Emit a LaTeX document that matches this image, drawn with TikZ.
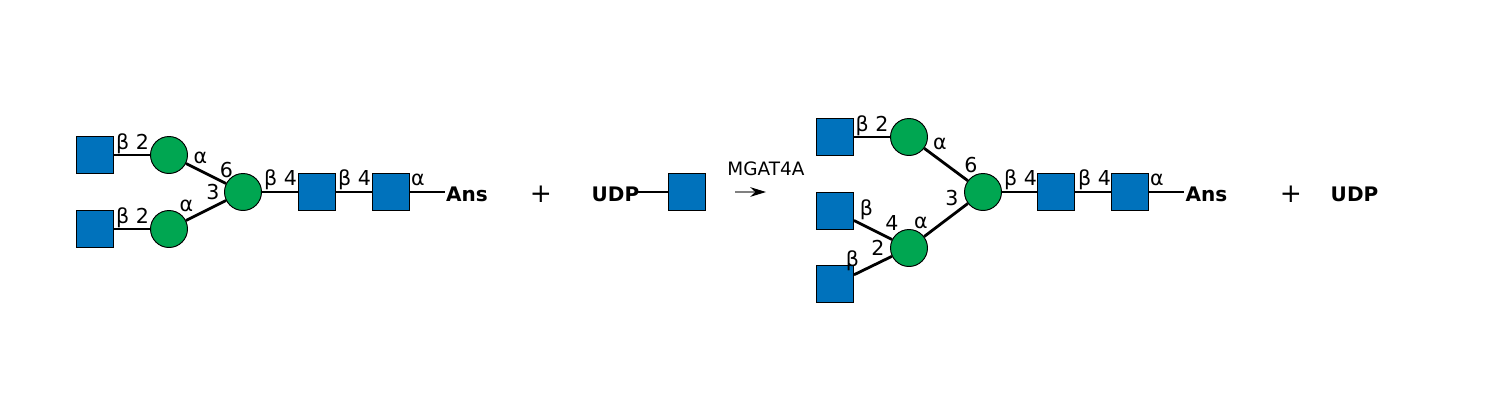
\documentclass[tikz,border=0pt]{standalone}
\usepackage{fontspec}
\setmainfont{DejaVu Sans}
\usetikzlibrary{arrows.meta}

\definecolor{glcnac}{HTML}{0072BC}
\definecolor{man}{HTML}{00A651}

\begin{document}
\begin{tikzpicture}[>=Stealth,x=0.020cm,y=-0.020cm,
 sq/.style={draw,line width=0.55pt,fill=glcnac,inner sep=0pt,minimum size=0.74cm},
 circ/.style={draw,circle,line width=0.55pt,fill=man,inner sep=0pt,minimum size=0.74cm},
 bond/.style={line width=1.6pt},
 lab/.style={font=\fontsize{11.7pt}{13pt}\selectfont,inner sep=0pt,anchor=base},
 end/.style={font=\fontsize{11.4pt}{13pt}\selectfont\bfseries,inner sep=0pt},
 plus/.style={font=\fontsize{15pt}{17pt}\selectfont,inner sep=0pt}]
\useasboundingbox (0,0) rectangle (1500,400);
\node[sq] (s1) at (95,155) {};
\node[sq] (s2) at (95,229) {};
\node[circ] (m1) at (169,155) {};
\node[circ] (m2) at (169,229) {};
\node[circ] (m3) at (243,192) {};
\node[sq] (s3) at (317,192) {};
\node[sq] (s4) at (391,192) {};
\node[end] (ans1) at (467,194) {Ans};
\node[plus] (plus1) at (541,194.5) {+};
\node[end] (udp1) at (615.5,194) {UDP};
\node[sq] (s5) at (687,192) {};
\node[lab,font=\fontsize{10.5pt}{12pt}\selectfont] (enz) at (766,175) {MGAT4A};
\coordinate (arr1) at (735,192);
\coordinate (arr2) at (766,192);
\node[sq] (t1) at (835,137) {};
\node[sq] (t2) at (835,211) {};
\node[sq] (t3) at (835,284) {};
\node[circ] (n1) at (909,137) {};
\node[circ] (n2) at (909,248) {};
\node[circ] (n3) at (983,192) {};
\node[sq] (t4) at (1056,192) {};
\node[sq] (t5) at (1130,192) {};
\node[end] (ans2) at (1206.5,194) {Ans};
\node[plus] (plus2) at (1291,194.5) {+};
\node[end] (udp2) at (1354.5,194) {UDP};
\draw[bond] (s1) -- (m1);
\draw[bond] (s2) -- (m2);
\draw[bond] (m1) -- (m3);
\draw[bond] (m2) -- (m3);
\draw[bond] (m3) -- (s3);
\draw[bond] (s3) -- (s4);
\draw[bond] (s4) -- ([xshift=-0.02cm]s4 -| ans1.west);
\draw[bond] ([xshift=-0.04cm]s5 -| udp1.east) -- (s5);
\draw[gray,line width=0.7pt,-{Stealth[black,length=9pt,width=5.5pt]}] (arr1) -- (arr2);
\draw[bond] (t1) -- (n1);
\draw[bond] (t2) -- (n2);
\draw[bond] (t3) -- (n2);
\draw[bond] (n1) -- (n3);
\draw[bond] (n2) -- (n3);
\draw[bond] (n3) -- (t4);
\draw[bond] (t4) -- (t5);
\draw[bond] (t5) -- ([xshift=-0.02cm]t5 -| ans2.west);
\node[lab] (l1) at (132.5,149) {β 2};
\node[lab] (l2) at (132.5,223) {β 2};
\node[lab] (l3) at (200.5,163) {α};
\node[lab] (l4) at (186.5,211) {α};
\node[lab] (l5) at (226.5,177) {6};
\node[lab] (l6) at (213,199) {3};
\node[lab] (l7) at (280.5,185) {β 4};
\node[lab] (l8) at (354.5,185) {β 4};
\node[lab] (l9) at (418,185) {α};
\node[lab] (r1) at (872,131) {β 2};
\node[lab] (r2) at (940,149) {α};
\node[lab] (r3) at (971,172.5) {6};
\node[lab] (r4) at (952,205) {3};
\node[lab] (r5) at (1020.5,185) {β 4};
\node[lab] (r6) at (1094.5,185) {β 4};
\node[lab] (r7) at (1157,185) {α};
\node[lab] (r8) at (921,228) {α};
\node[lab] (r9) at (892,230) {4};
\node[lab] (r10) at (878,255) {2};
\node[lab] (r11) at (866.5,215) {β};
\node[lab] (r12) at (852.5,266) {β};
\end{tikzpicture}
\end{document}
